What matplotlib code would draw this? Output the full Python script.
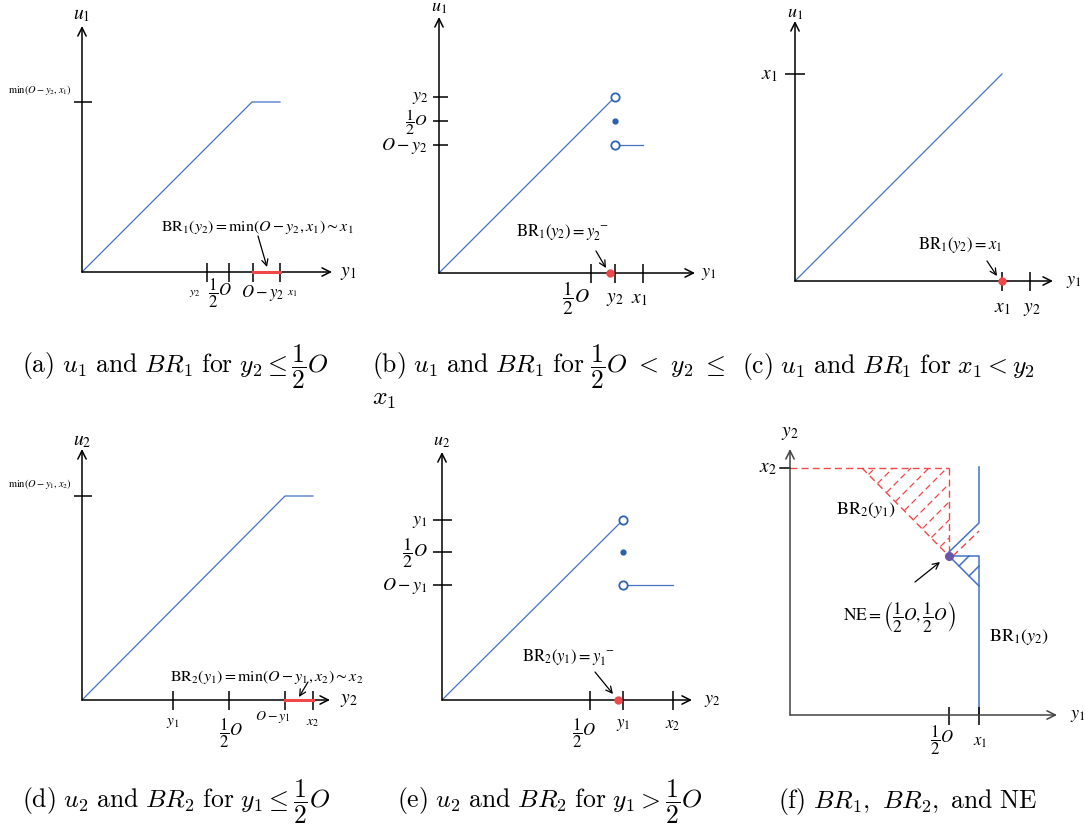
import matplotlib.pyplot as plt
import numpy as np

plt.rcParams['font.family'] = ['Liberation Serif', 'DejaVu Serif']
plt.rcParams['mathtext.fontset'] = 'stix'

W, H = 1085, 829
BLUE = '#4472c4'
RED = '#f04848'
AXC = 'black'

# ---- panel data (local units, origin at axis corner, y up) ----
# (a)
a_origin = (82, 273)
a_axis = (250, 246)
a_curve_x = [0, 170, 198]
a_curve_y = [0, 170, 170]
a_yticks = [170]
a_ylabels = [r'$\mathrm{min}(O-y_2,x_1)$']
a_xticks = [125, 147, 171, 198]
a_xlabels = [r'$y_2$', r'$\dfrac{1}{2}O$', r'$O-y_2$', r'$x_1$']
a_br = [171, 198]

# (b)
b_origin = (439, 274)
b_axis = (256, 256)
b_curve_x = [0, 176]
b_curve_y = [0, 176]
b_flat_x = [176, 204]
b_flat_y = [128, 128]
b_jump_x = 176
b_yticks = [176, 152, 128]
b_ylabels = [r'$y_2$', r'$\dfrac{1}{2}O$', r'$O-y_2$']
b_xticks = [152, 176, 204]
b_xlabels = [r'$\dfrac{1}{2}O$', r'$y_2$', r'$x_1$']
b_br = 171

# (c)
c_origin = (795, 282)
c_axis = (258, 260)
c_curve_x = [0, 207]
c_curve_y = [0, 207]
c_yticks = [207]
c_ylabels = [r'$x_1$']
c_xticks = [207, 235]
c_xlabels = [r'$x_1$', r'$y_2$']
c_br = 207

# (d)
d_origin = (82, 701)
d_axis = (248, 251)
d_curve_x = [0, 203, 231]
d_curve_y = [0, 204, 204]
d_yticks = [204]
d_ylabels = [r'$\mathrm{min}(O-y_1,x_2)$']
d_xticks = [91, 147, 203, 231]
d_xlabels = [r'$y_1$', r'$\dfrac{1}{2}O$', r'$O-y_1$', r'$x_2$']
d_br = [203, 231]

# (e)
e_origin = (442, 701)
e_axis = (250, 248)
e_curve_x = [0, 181]
e_curve_y = [0, 180]
e_flat_x = [181, 231]
e_flat_y = [115, 115]
e_jump_x = 181
e_yticks = [180, 148, 115]
e_ylabels = [r'$y_1$', r'$\dfrac{1}{2}O$', r'$O-y_1$']
e_xticks = [148, 181, 231]
e_xlabels = [r'$\dfrac{1}{2}O$', r'$y_1$', r'$x_2$']
e_br = 176

# (f)
f_origin = (790, 716)
f_axis = (267, 266)
f_x2 = 247
f_half = 159
f_x1 = 189
f_red_tri = [(72, 247), (159, 247), (159, 159)]
f_red_extra = [(163, 159), (189, 184)]
f_blue_upper = [(189, 248), (189, 192), (159, 163)]
f_blue_lower = [(159, 159), (189, 159), (189, 0)]
f_blue_diag = [(159, 159), (189, 129)]
f_xticks = [159, 189]
f_xlabels = [r'$\dfrac{1}{2}O$', r'$x_1$']

fig = plt.figure(figsize=(W / 100, H / 100), dpi=100)


def panel(origin):
    ox, oy = origin
    ax = fig.add_axes([0, 0, 1, 1])
    ax.set_xlim(-ox, W - ox)
    ax.set_ylim(oy - H, oy)
    ax.axis('off')
    ax.patch.set_alpha(0)
    return ax


def arrow(ax, start, end, color=AXC, lw=1.1, ms=12):
    ax.annotate('', xy=end, xytext=start,
                arrowprops=dict(arrowstyle='->,head_length=0.5,head_width=0.25',
                                lw=lw, color=color, shrinkA=0, shrinkB=0,
                                mutation_scale=ms))


def axes_lines(ax, size, color=AXC):
    arrow(ax, (0, 0), (size[0], 0), color)
    arrow(ax, (0, 0), (0, size[1]), color)


def xticks(ax, xs, color=AXC, lo=-10, hi=9):
    for x in xs:
        ax.plot([x, x], [lo, hi], color=color, lw=1.1, solid_capstyle='butt')


def yticks(ax, ys, lo=-8, hi=10, color=AXC):
    for y in ys:
        ax.plot([lo, hi], [y, y], color=color, lw=1.1, solid_capstyle='butt')


def txt(ax, x, y, s, size=12, ha='center', va='center', **kw):
    ax.text(x, y, s, fontsize=size, ha=ha, va=va, **kw)


# ---------------- (a) ----------------
ax = panel(a_origin)
axes_lines(ax, a_axis)
ax.plot(a_curve_x, a_curve_y, color=BLUE, lw=0.9)
ax.plot(a_br, [0, 0], color=RED, lw=2.2, zorder=3)
xticks(ax, a_xticks)
yticks(ax, a_yticks)
txt(ax, -10, a_yticks[0] + 6, a_ylabels[0], 7.5, ha='right', va='bottom')
for x, s, sz in zip([113, 138, 181, 210], a_xlabels, [8.5, 12, 12, 8.5]):
    txt(ax, x, -20, s, sz)
txt(ax, 0, 258, r'$u_1$', 14)
txt(ax, 258, 0, r'$y_1$', 14, ha='left')
txt(ax, 175, 46, r'$\mathrm{BR}_1(y_2)=\mathrm{min}(O-y_2,x_1)\sim x_1$', 11.5)
arrow(ax, (176, 36), (185, 5), lw=0.9, ms=9)

# ---------------- (b) ----------------
ax = panel(b_origin)
axes_lines(ax, b_axis)
ax.plot(b_curve_x, b_curve_y, color=BLUE, lw=0.9)
ax.plot(b_flat_x, b_flat_y, color=BLUE, lw=0.9)
ax.plot([b_jump_x, b_jump_x], [b_yticks[0], b_yticks[2]], ls='none', marker='o',
        ms=6, mfc='white', mec='#2e64b4', mew=1.3, zorder=4)
ax.plot([b_jump_x], [b_yticks[1]], ls='none', marker='o', ms=3.5, color='#2e60aa')
xticks(ax, b_xticks)
yticks(ax, b_yticks, lo=-6, hi=9)
ax.plot([b_br], [0], ls='none', marker='o', ms=5, color=RED, zorder=4)
for y, s, sz in zip(b_yticks, b_ylabels, [13, 11.5, 13]):
    txt(ax, -11, y, s, sz, ha='right')
for x, y, s in zip([137, 176, 200], [-24, -26, -26], b_xlabels):
    txt(ax, x, y, s, 14)
txt(ax, 0, 267, r'$u_1$', 13)
txt(ax, 262, 0, r'$y_1$', 13, ha='left')
txt(ax, 123, 41, r'$\mathrm{BR}_1(y_2)=y_2^{\ -}$', 12)
arrow(ax, (157, 22), (167, 5), lw=0.9, ms=9)

# ---------------- (c) ----------------
ax = panel(c_origin)
axes_lines(ax, c_axis)
ax.plot(c_curve_x, c_curve_y, color=BLUE, lw=0.9)
xticks(ax, c_xticks)
yticks(ax, c_yticks, lo=-10, hi=10)
ax.plot([c_br], [0], ls='none', marker='o', ms=5, color=RED, zorder=4)
txt(ax, -17, c_yticks[0], c_ylabels[0], 14, ha='right')
for x, s in zip([207, 237], c_xlabels):
    txt(ax, x, -27, s, 14)
txt(ax, 0, 269, r'$u_1$', 13)
txt(ax, 271, 0, r'$y_1$', 13, ha='left')
txt(ax, 165, 37, r'$\mathrm{BR}_1(y_2)=x_1$', 12)
arrow(ax, (192, 20), (202, 5), lw=0.9, ms=9)

# ---------------- (d) ----------------
ax = panel(d_origin)
axes_lines(ax, d_axis)
ax.plot(d_curve_x, d_curve_y, color=BLUE, lw=0.9)
ax.plot(d_br, [0, 0], color=RED, lw=2.2, zorder=3)
xticks(ax, d_xticks)
yticks(ax, d_yticks)
txt(ax, -10, d_yticks[0] + 6, d_ylabels[0], 7.5, ha='right', va='bottom')
for x, y, s, sz in zip([91, 149, 191, 231], [-22, -32, -16, -22], d_xlabels,
                       [11, 12, 10, 10]):
    txt(ax, x, y, s, sz)
txt(ax, 0, 259, r'$u_2$', 14)
txt(ax, 258, 0, r'$y_2$', 14, ha='left')
txt(ax, 185, 24, r'$\mathrm{BR}_2(y_1)=\mathrm{min}(O-y_1,x_2)\sim x_2$', 11.5)
arrow(ax, (226, 18), (217, 3), lw=0.9, ms=9)

# ---------------- (e) ----------------
ax = panel(e_origin)
axes_lines(ax, e_axis)
ax.plot(e_curve_x, e_curve_y, color=BLUE, lw=0.9)
ax.plot(e_flat_x, e_flat_y, color=BLUE, lw=0.9)
ax.plot([e_jump_x, e_jump_x], [e_yticks[0], e_yticks[2]], ls='none', marker='o',
        ms=6, mfc='white', mec='#2e64b4', mew=1.3, zorder=4)
ax.plot([e_jump_x], [e_yticks[1]], ls='none', marker='o', ms=3.5, color='#2e60aa')
xticks(ax, e_xticks)
yticks(ax, e_yticks, lo=-9, hi=10)
ax.plot([e_br], [0], ls='none', marker='o', ms=5, color=RED, zorder=4)
for y, s in zip(e_yticks, e_ylabels):
    txt(ax, -14, y, s, 13, ha='right')
for x, y, s in zip([142, 181, 231], [-32, -24, -24], e_xlabels):
    txt(ax, x, y, s, 12)
txt(ax, 0, 259, r'$u_2$', 13)
txt(ax, 262, 0, r'$y_2$', 13, ha='left')
txt(ax, 126, 43, r'$\mathrm{BR}_2(y_1)=y_1^{\ -}$', 12)
arrow(ax, (153, 28), (171, 6), lw=0.9, ms=9)

# ---------------- (f) ----------------
ax = panel(f_origin)
axes_lines(ax, f_axis, color='#444444')
dash = (0, (5, 3))
# red BR2 region
(ax_, ay_), (bx_, by_), (cx_, cy_) = f_red_tri
ax.plot([0, bx_], [f_x2, f_x2], color=RED, lw=1, ls=dash)
ax.plot([bx_, cx_], [by_, cy_], color=RED, lw=1, ls=dash)
ax.plot([ax_, cx_], [ay_, cy_], color=RED, lw=1, ls=dash)
ax.plot([p[0] for p in f_red_extra], [p[1] for p in f_red_extra], color=RED, lw=1, ls=dash)
for c in np.arange(18, ay_ - ax_, 18):
    # hatch line y = x + c, from hypotenuse up-right to the triangle edge
    x0 = (ay_ + ax_ - c) / 2.0
    x1 = min(bx_, ay_ - c)
    ax.plot([x0, x1], [x0 + c, x1 + c], color=RED, lw=0.9, ls=(0, (5, 3)))
# blue BR1
ax.plot([p[0] for p in f_blue_upper], [p[1] for p in f_blue_upper], color=BLUE, lw=1.1)
ax.plot([p[0] for p in f_blue_lower], [p[1] for p in f_blue_lower], color=BLUE, lw=1.1)
ax.plot([p[0] for p in f_blue_diag], [p[1] for p in f_blue_diag], color=BLUE, lw=1.1)
for c in [-20, -40]:
    x0 = (f_half + f_half - c) / 2.0
    x1 = min(f_x1, f_half - c)
    ax.plot([x0, x1], [x0 + c, x1 + c], color=BLUE, lw=1.1)
ax.plot([f_half], [f_half], ls='none', marker='o', ms=5.5, color='#6a55a8', zorder=5)
xticks(ax, f_xticks, lo=-10, hi=8)
ax.plot([-10, 0], [f_x2, f_x2], color=AXC, lw=1.1)
txt(ax, -13, f_x2, r'$x_2$', 14, ha='right')
for x, y, s in zip([152, 190], [-24, -26], f_xlabels):
    txt(ax, x, y, s, 12)
txt(ax, 0, 282, r'$y_2$', 14)
txt(ax, 280, 0, r'$y_1$', 13, ha='left')
txt(ax, 76, 206, r'$\mathrm{BR}_2(y_1)$', 13)
txt(ax, 229, 79, r'$\mathrm{BR}_1(y_2)$', 13)
txt(ax, 109, 99, r'$\mathrm{NE}=\left(\dfrac{1}{2}O,\dfrac{1}{2}O\right)$', 12.5)
arrow(ax, (125, 133), (150, 153), lw=0.9, ms=9)

# ---------------- captions ----------------
captions = [
    (22, 373, r'$\mathrm{(a)}\ u_1\ \mathrm{and}\ BR_1\ \mathrm{for}\ y_2 \leq \dfrac{1}{2}O$'),
    (372, 373, r'$\mathrm{(b)}\ u_1\ \mathrm{and}\ BR_1\ \mathrm{for}\ \dfrac{1}{2}O\ <\ y_2\ \leq$'),
    (372, 405, r'$x_1$'),
    (742, 373, r'$\mathrm{(c)}\ u_1\ \mathrm{and}\ BR_1\ \mathrm{for}\ x_1 < y_2$'),
    (22, 808, r'$\mathrm{(d)}\ u_2\ \mathrm{and}\ BR_2\ \mathrm{for}\ y_1 \leq \dfrac{1}{2}O$'),
    (397, 808, r'$\mathrm{(e)}\ u_2\ \mathrm{and}\ BR_2\ \mathrm{for}\ y_1 > \dfrac{1}{2}O$'),
    (778, 808, r'$\mathrm{(f)}\ BR_1,\ BR_2,\ \mathrm{and\ NE}$'),
]
for x, y, s in captions:
    fig.text(x / W, 1 - y / H, s, fontsize=18.5, ha='left', va='baseline',
             math_fontfamily='cm')

fig.savefig('out.png', dpi=100)
